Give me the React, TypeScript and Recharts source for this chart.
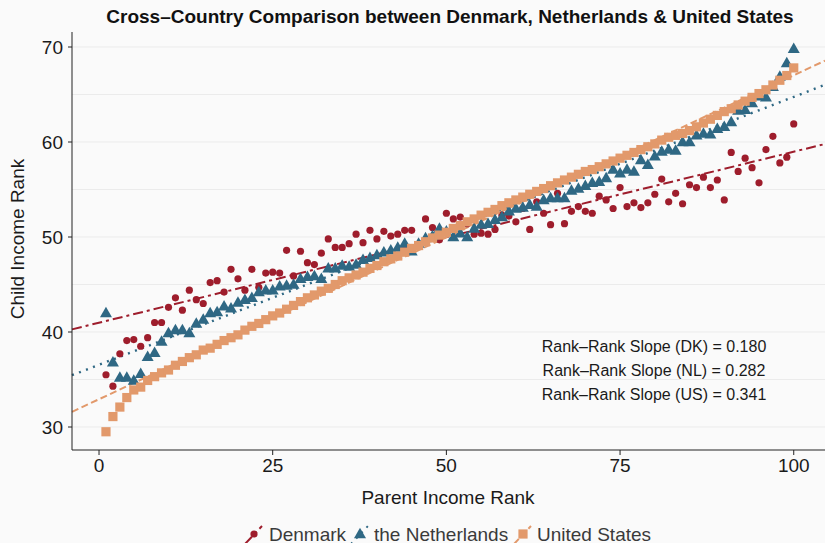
import {
  ComposedChart,
  Scatter,
  XAxis,
  YAxis,
  CartesianGrid,
  ReferenceLine,
} from "recharts";

// parent income percentile ranks 1..100
const RANKS = Array.from({ length: 100 }, (_, i) => i + 1);

const DENMARK = [
  35.5, 34.3, 37.7, 39.1, 39.2, 38.5, 39.4, 41.0, 41.0, 42.6,
  43.6, 42.3, 44.4, 43.4, 43.0, 45.2, 45.4, 44.2, 46.6, 45.6,
  44.4, 46.6, 44.7, 46.2, 46.3, 46.2, 48.6, 45.9, 48.5, 47.3,
  47.1, 48.3, 49.8, 48.9, 48.9, 49.3, 50.3, 49.4, 50.7, 49.8,
  50.6, 50.1, 50.3, 50.7, 50.7, 49.2, 51.9, 51.0, 49.7, 52.5,
  51.9, 52.1, 51.4, 50.3, 50.4, 50.3, 50.8, 52.3, 52.2, 51.6,
  53.0, 50.8, 53.7, 52.5, 51.3, 54.6, 51.4, 52.7, 53.2, 52.7,
  52.5, 54.3, 53.9, 53.0, 55.2, 53.2, 53.6, 53.1, 53.6, 54.5,
  56.1, 53.7, 54.6, 53.5, 55.5, 55.2, 56.3, 55.2, 56.0, 53.9,
  58.9, 56.9, 58.3, 57.3, 55.7, 59.2, 60.6, 57.8, 58.4, 61.9,
];

const NETHERLANDS = [
  42.0, 36.8, 35.2, 35.2, 34.9, 35.6, 37.4, 37.8, 39.0, 39.9,
  40.2, 40.2, 39.9, 40.9, 41.3, 42.0, 42.1, 42.7, 42.5, 43.1,
  43.4, 43.6, 44.2, 44.4, 44.4, 44.8, 44.9, 45.0, 45.6, 45.8,
  45.9, 45.6, 46.7, 46.7, 47.0, 46.9, 47.1, 47.6, 47.8, 48.1,
  48.4, 48.6, 48.9, 49.3, 48.5, 49.3, 49.9, 50.1, 50.9, 50.6,
  50.0, 50.4, 50.0, 50.9, 51.3, 51.4, 51.8, 52.1, 52.7, 53.0,
  53.1, 53.4, 53.2, 53.9, 54.1, 54.1, 54.1, 54.9, 55.1, 55.4,
  55.7, 55.8, 56.2, 57.1, 56.7, 57.1, 56.9, 58.1, 57.6, 58.5,
  59.0, 59.2, 59.1, 60.0, 60.0, 60.7, 60.9, 60.8, 61.4, 61.6,
  62.1, 63.3, 63.4, 64.1, 64.8, 64.7, 65.8, 66.9, 68.3, 69.8,
];

const UNITED_STATES = [
  29.5, 31.1, 32.1, 33.1, 33.9, 34.2, 34.9, 35.3, 35.7, 36.0,
  36.5, 36.9, 37.3, 37.6, 38.1, 38.3, 38.7, 39.1, 39.4, 39.7,
  40.2, 40.6, 40.9, 41.3, 41.7, 42.0, 42.4, 42.8, 43.2, 43.6,
  43.9, 44.3, 44.6, 45.0, 45.4, 45.7, 46.0, 46.3, 46.7, 47.0,
  47.4, 47.7, 48.0, 48.4, 48.8, 49.1, 49.5, 49.9, 50.2, 50.5,
  50.9, 51.2, 51.6, 51.9, 52.3, 52.6, 52.9, 53.3, 53.6, 53.9,
  54.2, 54.5, 54.8, 55.1, 55.4, 55.7, 56.0, 56.3, 56.6, 56.9,
  57.1, 57.4, 57.7, 58.0, 58.3, 58.6, 58.9, 59.2, 59.5, 59.8,
  60.2, 60.5, 60.7, 60.9, 61.2, 61.6, 62.0, 62.4, 62.8, 63.2,
  63.5, 63.9, 64.3, 64.7, 65.1, 65.5, 66.0, 66.5, 67.0, 67.8,
];

const COUNTRY_NAMES = ["Denmark", "the Netherlands", "United States"];
const COUNTRY_CODES = ["DK", "NL", "US"];
const SLOPES = [0.18, 0.282, 0.341];

const X_TICKS = [0, 25, 50, 75, 100];
const Y_TICKS = [30, 40, 50, 60, 70];
const GRID_VALUES = [30, 35, 40, 45, 50, 55, 60, 65, 70];

const X_DOMAIN: [number, number] = [-3.89, 104.5];
const Y_DOMAIN: [number, number] = [27.58, 71.58];

const COLORS = ["#9e1d2c", "#2f6884", "#e2996b"];
const DASHES = ["10 4 3 4", "2 5.5", "7 3.5"];
const FONT = "'Liberation Sans', Arial, Helvetica, sans-serif";

const W = 825;
const H = 543;

const toPoints = (ys: number[]) => ys.map((y, i) => ({ x: RANKS[i], y }));

// fitted line through the means with the reported rank-rank slope
const fitSegment = (ys: number[], slope: number) => {
  const mx = RANKS.reduce((a, b) => a + b, 0) / RANKS.length;
  const my = ys.reduce((a, b) => a + b, 0) / ys.length;
  const b0 = my - slope * mx;
  return [
    { x: X_DOMAIN[0], y: b0 + slope * X_DOMAIN[0] },
    { x: X_DOMAIN[1], y: b0 + slope * X_DOMAIN[1] },
  ];
};

const Dot = ({ cx, cy, color }: any) => <circle cx={cx} cy={cy} r={3.6} fill={color} />;
const Tri = ({ cx, cy, color }: any) => (
  <polygon
    points={`${cx},${cy - 6.3} ${cx - 6},${cy + 4.2} ${cx + 6},${cy + 4.2}`}
    fill={color}
  />
);
const Sq = ({ cx, cy, color }: any) => (
  <rect x={cx - 4.6} y={cy - 4.6} width={9.2} height={9.2} fill={color} />
);
const SHAPES = [Dot, Tri, Sq];

const LEGEND_X = [254, 360, 523];
const LEGEND_TEXT_X = [269, 374, 537];

export default function App() {
  const series = [DENMARK, NETHERLANDS, UNITED_STATES];

  return (
    <div
      style={{
        position: "absolute",
        left: 0,
        top: 0,
        width: W,
        height: H,
        background: "#fafafa",
        overflow: "hidden",
        fontFamily: FONT,
      }}
    >
      <ComposedChart
        width={W}
        height={H}
        margin={{ top: 32, right: 0, bottom: 0, left: 0 }}
        style={{ fontFamily: FONT }}
      >
        <CartesianGrid
          vertical={false}
          horizontalValues={GRID_VALUES}
          stroke="#ebebeb"
          strokeWidth={1}
        />
        <XAxis
          type="number"
          dataKey="x"
          domain={X_DOMAIN}
          allowDataOverflow
          ticks={X_TICKS}
          height={93}
          tickSize={5}
          tickMargin={4}
          axisLine={{ stroke: "#222" }}
          tickLine={{ stroke: "#222" }}
          tick={{ fontSize: 19, fill: "#1a1a1a" }}
        />
        <YAxis
          type="number"
          dataKey="y"
          domain={Y_DOMAIN}
          allowDataOverflow
          ticks={Y_TICKS}
          width={72}
          tickSize={4}
          tickMargin={5}
          axisLine={{ stroke: "#222" }}
          tickLine={{ stroke: "#222" }}
          tick={{ fontSize: 19, fill: "#1a1a1a" }}
        />
        {series.map((ys, k) => {
          const Shape = SHAPES[k];
          return (
            <Scatter
              key={COUNTRY_CODES[k]}
              name={COUNTRY_NAMES[k]}
              data={toPoints(ys)}
              isAnimationActive={false}
              shape={(p: any) => <Shape cx={p.cx} cy={p.cy} color={COLORS[k]} />}
            />
          );
        })}
        {series.map((ys, k) => (
          <ReferenceLine
            key={"fit" + k}
            segment={fitSegment(ys, SLOPES[k])}
            stroke={COLORS[k]}
            strokeWidth={k === 1 ? 2.4 : 2}
            strokeDasharray={DASHES[k]}
            ifOverflow="visible"
          />
        ))}
      </ComposedChart>

      <svg
        width={W}
        height={H}
        style={{ position: "absolute", left: 0, top: 0, pointerEvents: "none" }}
        fontFamily={FONT}
      >
        <text x={450} y={23} textAnchor="middle" fontSize={19} fontWeight="bold" fill="#111">
          Cross–Country Comparison between Denmark, Netherlands &amp; United States
        </text>
        <text
          x={24}
          y={239}
          textAnchor="middle"
          fontSize={19}
          fill="#1a1a1a"
          transform="rotate(-90 24 239)"
        >
          Child Income Rank
        </text>
        <text x={448} y={504} textAnchor="middle" fontSize={19} fill="#1a1a1a">
          Parent Income Rank
        </text>
        {COUNTRY_CODES.map((c, k) => (
          <text key={c} x={654} y={352 + k * 24} textAnchor="middle" fontSize={16} fill="#1a1a1a">
            {`Rank–Rank Slope (${c}) = ${SLOPES[k].toFixed(3)}`}
          </text>
        ))}
        {COUNTRY_NAMES.map((name, k) => {
          const Shape = SHAPES[k];
          const cx = LEGEND_X[k];
          const cy = 534;
          return (
            <g key={name}>
              <line
                x1={cx - 9}
                y1={cy + 10}
                x2={cx + 8}
                y2={cy - 8}
                stroke={COLORS[k]}
                strokeWidth={2}
                strokeDasharray={DASHES[k]}
              />
              <Shape cx={cx} cy={cy} color={COLORS[k]} />
              <text x={LEGEND_TEXT_X[k]} y={540.5} fontSize={19} fill="#3a3a3a">
                {name}
              </text>
            </g>
          );
        })}
      </svg>
    </div>
  );
}
